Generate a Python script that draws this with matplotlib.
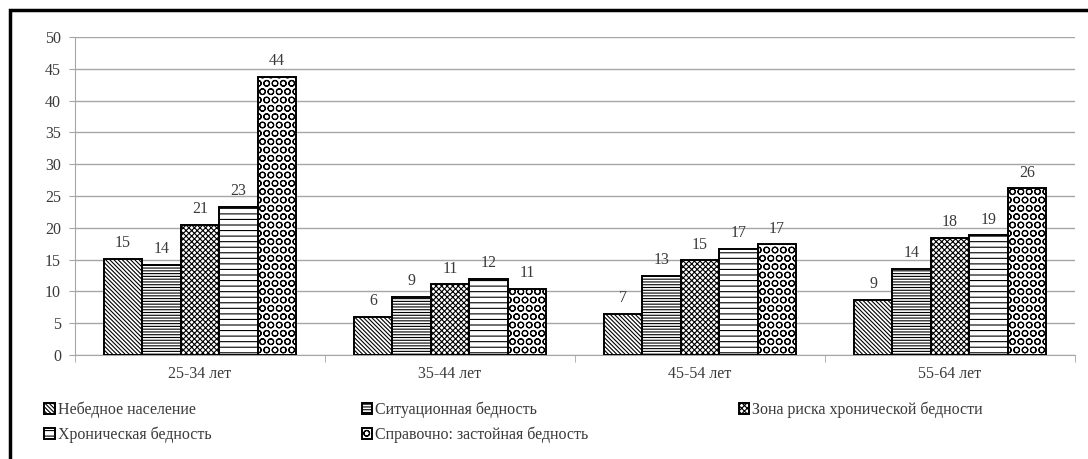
import numpy as np
import matplotlib.pyplot as plt
from matplotlib.patches import Rectangle

# Категории и серии
categories = ["25-34 лет", "35-44 лет", "45-54 лет", "55-64 лет"]
series_names = ["Небедное население", "Ситуационная бедность",
                "Зона риска хронической бедности", "Хроническая бедность",
                "Справочно: застойная бедность"]
nebednoe = [15.1, 6.0, 6.5, 8.7]
situac = [14.2, 9.1, 12.5, 13.6]
zona_riska = [20.5, 11.1, 14.9, 18.4]
hronich = [23.3, 12.0, 16.7, 18.8]
zastoi = [43.7, 10.4, 17.4, 26.2]
values = [nebednoe, situac, zona_riska, hronich, zastoi]
labels = [[15, 6, 7, 9], [14, 9, 13, 14], [21, 11, 15, 18],
          [23, 12, 17, 19], [44, 11, 17, 26]]

hatches = ["\\" * 8, "------", "xxxxxx", "---", "OO"]

plt.rcParams['font.family'] = ['Liberation Serif', 'DejaVu Serif']
plt.rcParams['hatch.linewidth'] = 0.8
txt = '#3a3a3a'

fig = plt.figure(figsize=(10.88, 4.59), dpi=100)
ax = fig.add_axes([75/1088, 1-355/459, 1000/1088, 318/459])

x = np.arange(len(categories))
w = 0.154
for i, (vals, h) in enumerate(zip(values, hatches)):
    pos = x + (i - 2) * w
    ax.bar(pos, vals, w, color='white', edgecolor='black',
           linewidth=1.4, hatch=h, label=series_names[i], zorder=3)
    for p, v, lab in zip(pos, vals, labels[i]):
        ax.text(p, v + 1.2, str(lab), ha='center', va='bottom',
                fontsize=11.5, color=txt)

ax.set_ylim(0, 50)
ax.set_xlim(-0.5, 3.5)
ax.set_yticks(range(0, 51, 5))
ax.yaxis.grid(True, color='#a6a6a6', linewidth=1, zorder=0)
ax.set_xticks(x)
ax.set_xticklabels(categories)
ax.set_xticks(np.arange(-0.5, 4, 1), minor=True)
ax.tick_params(axis='x', which='major', length=0, pad=8, labelsize=11.5, labelcolor=txt)
ax.tick_params(axis='x', which='minor', length=5, color='#a6a6a6')
ax.tick_params(axis='y', length=4, color='#a6a6a6', labelsize=11.5, labelcolor=txt, pad=6)
for s in ['top', 'right']:
    ax.spines[s].set_visible(False)
ax.spines['left'].set_color('#a6a6a6')
ax.spines['bottom'].set_color('#a6a6a6')

# Легенда: два ряда по три колонки
h, l = ax.get_legend_handles_labels()
order = [0, 3, 1, 4, 2]
fig.legend([h[i] for i in order], [l[i] for i in order], ncol=3,
           loc='upper left', bbox_to_anchor=(38/1088, 1-395/459),
           frameon=False, fontsize=11.5, labelcolor=txt,
           handlelength=0.65, handleheight=0.65, handletextpad=0.2,
           columnspacing=9.4, labelspacing=0.55, borderaxespad=0)

# рамка вокруг рисунка
fig.patches.append(Rectangle((10/1088, -0.05), 1.1, 1-10/459+0.05,
                             transform=fig.transFigure, fill=False,
                             edgecolor='black', linewidth=2.5))

fig.savefig('out.png', dpi=100)
